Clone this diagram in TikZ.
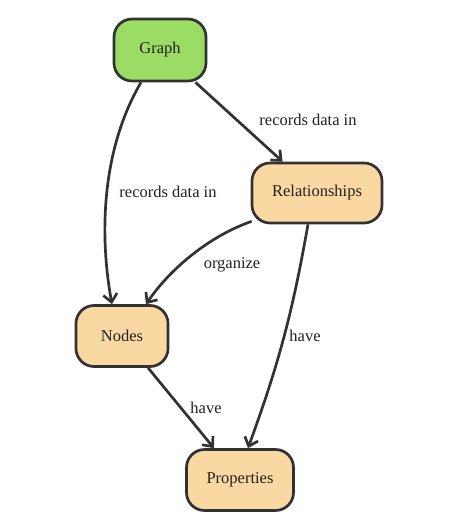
\documentclass[tikz,border=0pt]{standalone}
\usepackage{fontspec}
\setmainfont{Liberation Serif}
\usetikzlibrary{arrows.meta}
\definecolor{gfill}{RGB}{155,220,100}
\definecolor{bfill}{RGB}{250,216,162}
\definecolor{ink}{RGB}{50,50,50}
\definecolor{txt}{RGB}{34,34,34}
\tikzset{
  box/.style={draw=ink, line width=2.7pt, rounded corners=18pt, fill=bfill,
    inner sep=0pt, text=txt, font=\fontsize{16.5}{18}\selectfont},
  gbox/.style={box, fill=gfill},
  edge/.style={draw=ink, line width=2.7pt,
    -{Straight Barb[length=8pt,width=14pt,line width=2.7pt]}},
  lbl/.style={text=txt, font=\fontsize{16.5}{18}\selectfont, inner sep=0pt}
}
\begin{document}
\begin{tikzpicture}[x=1pt,y=1pt]
\useasboundingbox (0,0) rectangle (461,523);
\node[gbox, minimum width=92pt, minimum height=62pt] (G) at (160,473) {Graph};
\node[box, minimum width=130pt, minimum height=60pt] (R) at (317,330) {Relationships};
\node[box, minimum width=92pt, minimum height=61pt] (N) at (122,187) {Nodes};
\node[box, minimum width=107pt, minimum height=61pt] (P) at (240,43) {Properties};

\draw[edge] (G) -- (R);
\draw[edge] ([xshift=-19pt]G.south) .. controls +(-41pt,-70pt) and +(-12pt,65pt) .. ([xshift=-10pt]N.north);
\draw[edge] ([shift={(1pt,3pt)}]R.south west) .. controls +(-43pt,-15pt) and +(24pt,35pt) .. ([xshift=24pt]N.north);
\draw[edge] ([xshift=-9pt]R.south) to[bend left=5] ([xshift=8pt]P.north);
\draw[edge] (N) -- (P);

\node[lbl] (l1) at (308,403) {records data in};
\node[lbl] (l2) at (168,331) {records data in};
\node[lbl] (l3) at (232,258) {organize};
\node[lbl] (l4) at (305,187) {have};
\node[lbl] (l5) at (206,115) {have};
\end{tikzpicture}
\end{document}
